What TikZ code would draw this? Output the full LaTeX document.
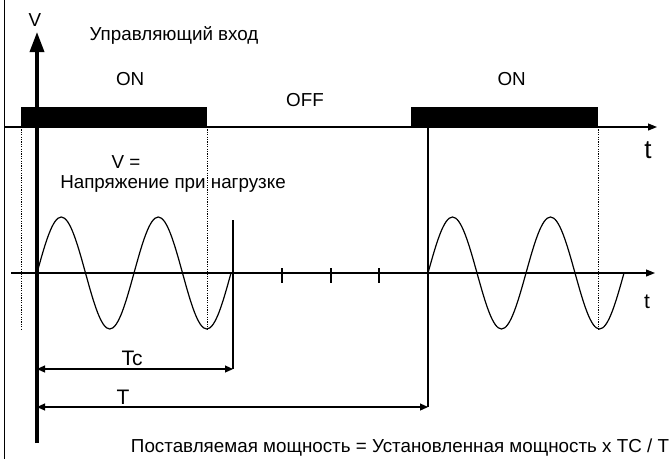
\documentclass[tikz,border=0pt]{standalone}
\usepackage{fontspec}
\setmainfont{Liberation Sans}
\usetikzlibrary{positioning,arrows.meta}
\tikzstyle{pulse-bar} = [fill=black, draw=none, rectangle, inner sep=0pt,
    minimum height=20pt]
\tikzstyle{time-axis} = [line width=1.1pt, -{Triangle[length=9pt,width=7pt]}]
\tikzstyle{volt-axis} = [line width=3.5pt, -{Triangle[length=20pt,width=14pt]}]
\tikzstyle{guide-dot} = [dash pattern=on 1.2pt off 1.2pt, line width=1pt]
\tikzstyle{span-arrow} = [line width=1.1pt,
    {Triangle[length=8pt,width=7pt]}-{Triangle[length=8pt,width=7pt]}]
\tikzstyle{wave} = [line width=1.2pt]
\tikzstyle{lbl} = [inner sep=0pt, font=\fontsize{18.8}{22}\selectfont]
\tikzstyle{thin-lbl} = [inner sep=0pt, font=\fontsize{21}{24}\selectfont]

\begin{document}
\begin{tikzpicture}[x=1pt, y=-1pt]
\useasboundingbox (0,0) rectangle (671,459);
\coordinate (frame-top) at (4,0);
\coordinate (frame-foot) at (4,459);
\coordinate (in-start) at (4,127);
\coordinate (in-end) at (657,127);
\coordinate (out-start) at (11,273);
\coordinate (out-end) at (655,273);
\coordinate (v-foot) at (37,443);
\coordinate (v-tip) at (37,32);
\coordinate (w1-start) at (37,273);
\coordinate (w2-start) at (428,273);
\coordinate (trough-level) at (0,330);
\coordinate (tc-top) at (233,220);
\coordinate (tc-end) at (233,369);
\coordinate (tc-start) at (37,369);
\coordinate (t-start) at (37,407);
\coordinate (t-end) at (428,407);

\draw[line width=1pt] (frame-top) -- (frame-foot);
\draw[time-axis] (in-start) -- (in-end);
\node[pulse-bar, minimum width=186pt, anchor=south west] (on-1) at (21,127) {};
\node[pulse-bar, minimum width=187pt, anchor=south west] (on-2) at (411,127) {};
\draw[volt-axis] (v-foot) -- (v-tip);
\draw[time-axis] (out-start) -- (out-end);

\draw[guide-dot] (on-1.south west) -- (on-1.south west |- trough-level);
\draw[guide-dot] (on-1.south east) -- (on-1.south east |- trough-level);
\draw[guide-dot] (on-2.south east) -- (on-2.south east |- trough-level);
\draw[line width=1.1pt] (tc-top) -- (tc-end);
\draw[line width=1.1pt] (w2-start |- in-start) -- (t-end);

\foreach \tx in {282,331,379}
    \draw[line width=1.1pt] (\tx,268) -- (\tx,283);

\draw[wave] (w1-start) \foreach \k in {1,2}{
    sin ++(24.25,-56) cos ++(24.25,56) sin ++(24.25,56) cos ++(24.25,-56)};
\draw[wave] (w2-start) \foreach \k in {1,2}{
    sin ++(24.5,-56) cos ++(24.5,56) sin ++(24.5,56) cos ++(24.5,-56)};

\draw[span-arrow] (tc-start) -- (tc-end);
\draw[span-arrow] (t-start) -- (t-end);

\node[lbl] (v-name) at (35,20) {V};
\node[lbl] (in-title) at (174,35) {Управляющий вход};
\node[lbl, above=21pt of on-1, xshift=16pt] (on-1-text) {ON};
\node[lbl, above=21pt of on-2, xshift=7pt] (on-2-text) {ON};
\node[lbl] (off-text) at (305,100) {OFF};
\node[inner sep=0pt, font=\fontsize{26}{28}\selectfont] (t-in) at (648,150) {t};
\node[lbl] (load-v) at (126,162) {V =};
\node[lbl] (load-name) at (173,184) {Напряжение при нагрузке};
\node[thin-lbl] (t-out) at (647,302) {t};
\node[thin-lbl] (tc-name) at (132,358) {Tc};
\node[thin-lbl] (t-name) at (123,397) {T};
\node[lbl] (power-note) at (400,448)
    {Поставляемая мощность = Установленная мощность x TC / T};
\end{tikzpicture}
\end{document}
